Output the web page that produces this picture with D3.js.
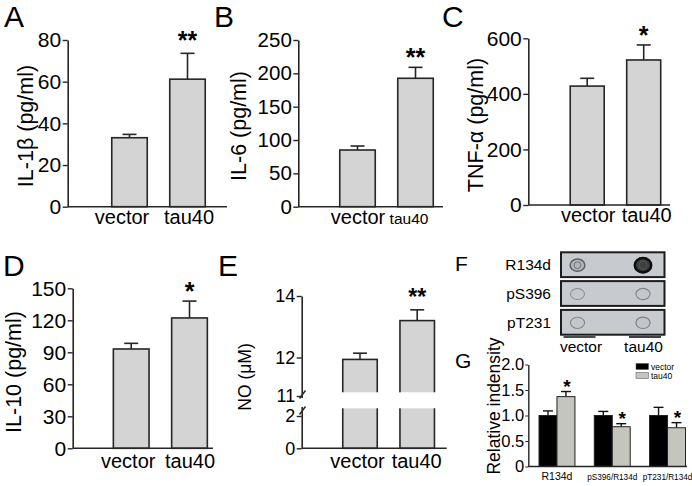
<!DOCTYPE html>
<html><head><meta charset="utf-8">
<script src="https://cdn.jsdelivr.net/npm/d3@7"></script>
<style>
html,body{margin:0;padding:0;background:#fff;}
svg{display:block;}
</style>
</head><body>
<svg id="fig" width="692" height="486"></svg>
<script>
// ---------- data ----------
const groups = ["vector", "tau40"];

const il1bMean = [33.1, 61.2];
const il1bErr  = [1.6, 12.4];
const il1bTicks = [0, 20, 40, 60, 80];
const il1bSig = ["", "**"];

const il6Mean = [85, 192.6];
const il6Err  = [6, 16.4];
const il6Ticks = [0, 50, 100, 150, 200, 250];
const il6Sig = ["", "**"];

const tnfMean = [428, 522];
const tnfErr  = [28, 54];
const tnfTicks = [0, 200, 400, 600];
const tnfSig = ["", "*"];

const il10Mean = [93.1, 122.2];
const il10Err  = [5.3, 15.8];
const il10Ticks = [0, 30, 60, 90, 120, 150];
const il10Sig = ["", "*"];

const noMean = [11.95, 13.2];
const noErr  = [0.19, 0.35];
const noTicks = [0, 2, 11, 12, 14];
const noSig = ["", "**"];

const blotRows = ["R134d", "pS396", "pT231"];
const blotLanes = ["vector", "tau40"];
const blotDensity = [[0.4, 0.95], [0.12, 0.16], [0.16, 0.2]];

const relCategories = ["R134d", "pS396/R134d", "pT231/R134d"];
const relVector = [1.0, 1.0, 1.0];
const relVectorErr = [0.09, 0.08, 0.16];
const relTau = [1.37, 0.78, 0.76];
const relTauErr = [0.10, 0.06, 0.10];
const relSig = ["*", "*", "*"];
const relTicks = [0, 0.5, 1.0, 1.5, 2.0];

// ---------- drawing ----------
const FONT = "'Liberation Sans', Arial, Helvetica, sans-serif";
const svg = d3.select("#fig").style("font-family", FONT);
const BAR_FILL = "#d4d4d4", INK = "#262626";

function letter(t, x, y, size) {
  svg.append("text").attr("x", x).attr("y", y).attr("font-size", size)
    .attr("fill", "#000").text(t);
}

function vTitle(t, cx, cy, size) {
  svg.append("text").attr("transform", `translate(${cx},${cy}) rotate(-90)`)
    .attr("text-anchor", "middle").attr("dominant-baseline", "central")
    .attr("font-size", size).attr("fill", "#000").text(t);
}

function barPanel(o) {
  const g = svg.append("g");
  const y = o.yScale || d3.scaleLinear().domain([0, o.max]).range([o.y0, o.yTop]);
  const x = d3.scalePoint().domain(groups).range(o.centers);
  const rows = groups.map((k, i) => ({k, v: o.values[i], e: o.errors[i], s: o.sig[i]}));

  const eb = g.selectAll(".eb").data(rows).join("g");
  eb.append("line").attr("x1", d => x(d.k)).attr("x2", d => x(d.k))
    .attr("y1", d => y(d.v)).attr("y2", d => y(d.v + d.e))
    .attr("stroke", INK).attr("stroke-width", 1.6);
  eb.append("line").attr("x1", d => x(d.k) - o.cap).attr("x2", d => x(d.k) + o.cap)
    .attr("y1", d => y(d.v + d.e)).attr("y2", d => y(d.v + d.e))
    .attr("stroke", INK).attr("stroke-width", 1.6);

  g.selectAll(".bar").data(rows).join("rect")
    .attr("x", d => x(d.k) - o.barW / 2).attr("width", o.barW)
    .attr("y", d => y(d.v)).attr("height", d => y(0) - y(d.v))
    .attr("fill", BAR_FILL).attr("stroke", INK).attr("stroke-width", 1.6);

  g.selectAll(".star").data(rows).join("text")
    .attr("x", d => x(d.k)).attr("y", d => y(d.v + d.e) - o.starGap)
    .attr("text-anchor", "middle").attr("font-weight", "bold")
    .attr("font-size", o.starSize).attr("fill", "#000").text(d => d.s);

  const ax = g.append("g").attr("transform", `translate(${o.axisX},0)`)
    .call(d3.axisLeft(y).tickValues(o.ticks).tickSize(5).tickSizeOuter(0).tickPadding(1.5)
      .tickFormat(o.fmt || d3.format("d")));
  ax.select(".domain").attr("stroke", INK).attr("stroke-width", 1.6);
  ax.selectAll(".tick line").attr("stroke", INK).attr("stroke-width", 1.4);
  ax.selectAll(".tick text").attr("font-size", o.tickSize).attr("fill", "#000")
    .attr("font-family", FONT);

  g.append("line").attr("x1", o.axisX).attr("x2", o.axisEnd)
    .attr("y1", y(0)).attr("y2", y(0)).attr("stroke", INK).attr("stroke-width", 1.6);

  g.selectAll(".xl").data(rows).join("text")
    .attr("x", (d, i) => x(d.k) + o.labelDx[i]).attr("y", o.labelY)
    .attr("text-anchor", "middle").attr("font-size", (d, i) => o.labelSizes[i])
    .attr("fill", "#000").text(d => d.k);

  vTitle(o.title, o.titleX, o.titleY, o.titleSize);
  return {g, y, x};
}

// A
letter("A", 4, 27, 30);
barPanel({values: il1bMean, errors: il1bErr, ticks: il1bTicks, sig: il1bSig, max: 80,
  y0: 206.7, yTop: 40, axisX: 67.7, axisEnd: 227, centers: [129.5, 187.5], barW: 35.5, cap: 7,
  starGap: 4, starSize: 25, tickSize: 21, labelDx: [-7.5, 1.5], labelY: 224, labelSizes: [20, 20],
  title: "IL-1β (pg/ml)", titleX: 26, titleY: 126, titleSize: 21.5});

// B
letter("B", 214, 27, 30);
barPanel({values: il6Mean, errors: il6Err, ticks: il6Ticks, sig: il6Sig, max: 250,
  y0: 206.7, yTop: 40, axisX: 298.3, axisEnd: 443, centers: [357.5, 415.5], barW: 35.5, cap: 7,
  starGap: 1, starSize: 25, tickSize: 20.5, labelDx: [0.5, -6.5], labelY: 224, labelSizes: [20, 15.5],
  title: "IL-6 (pg/ml)", titleX: 238.5, titleY: 126, titleSize: 21.5});

// C
letter("C", 442, 27, 30);
barPanel({values: tnfMean, errors: tnfErr, ticks: tnfTicks, sig: tnfSig, max: 600,
  y0: 205, yTop: 38.3, axisX: 528.3, axisEnd: 670, centers: [587.2, 643.7], barW: 34, cap: 7,
  starGap: 1, starSize: 25, tickSize: 21, labelDx: [1, 3], labelY: 222, labelSizes: [20, 20],
  title: "TNF-α (pg/ml)", titleX: 476, titleY: 125, titleSize: 21.5});

// D
letter("D", 3, 276, 30);
barPanel({values: il10Mean, errors: il10Err, ticks: il10Ticks, sig: il10Sig, max: 150,
  y0: 448.3, yTop: 288.3, axisX: 72.7, axisEnd: 213, centers: [131.2, 189.5], barW: 35.7, cap: 7,
  starGap: 1, starSize: 25, tickSize: 21, labelDx: [-3, 0.5], labelY: 468, labelSizes: [20, 20],
  title: "IL-10 (pg/ml)", titleX: 14, titleY: 372, titleSize: 21.5});

// E (broken axis)
letter("E", 218, 276, 30);
const noScale = d3.scaleLinear().domain([0, 2, 11, 12, 14]).range([448.3, 416, 396, 357.5, 296]);
const pe = barPanel({values: noMean, errors: noErr, ticks: noTicks, sig: noSig, yScale: noScale,
  axisX: 301.7, axisEnd: 446.7, centers: [360, 417.2], barW: 34.5, cap: 7,
  starGap: 5, starSize: 23, tickSize: 18, labelDx: [-2.5, -0.5], labelY: 468, labelSizes: [20, 20],
  title: "NO (μM)", titleX: 245, titleY: 377, titleSize: 17.5});
pe.g.append("rect").attr("x", 336).attr("width", 106).attr("y", 392.3).attr("height", 16)
  .attr("fill", "#fff");
pe.g.append("rect").attr("x", 299).attr("width", 6).attr("y", 398).attr("height", 9)
  .attr("fill", "#fff");
pe.g.append("line").attr("x1", 299.5).attr("y1", 398.5).attr("x2", 305.5).attr("y2", 390.5)
  .attr("stroke", INK).attr("stroke-width", 1.4);
pe.g.append("line").attr("x1", 299.5).attr("y1", 414.5).attr("x2", 305.5).attr("y2", 406.5)
  .attr("stroke", INK).attr("stroke-width", 1.4);

// F blot
letter("F", 455, 271, 21);
const BOX_FILL = "#c7cace";
const rowScale = d3.scaleBand().domain(blotRows).range([252.3, 334.7]).paddingInner(0.139);
const laneScale = d3.scalePoint().domain(blotLanes).range([577.5, 643]);
const fg = svg.append("g");
fg.selectAll(".box").data(blotRows).join("rect")
  .attr("x", 561).attr("width", 103.5).attr("y", d => rowScale(d)).attr("height", rowScale.bandwidth())
  .attr("fill", BOX_FILL).attr("stroke", "#1c1c1c").attr("stroke-width", 2);
fg.selectAll(".rl").data(blotRows).join("text")
  .attr("x", 551).attr("y", d => rowScale(d) + rowScale.bandwidth() / 2)
  .attr("dominant-baseline", "central").attr("text-anchor", "end").attr("font-size", 15.5)
  .attr("fill", "#000").text(d => d);
const dots = [];
blotRows.forEach((r, i) => blotLanes.forEach((l, j) => dots.push({r, l, d: blotDensity[i][j]})));
const dotFill = d3.interpolateRgb(BOX_FILL, "#111");
const dotStroke = d3.interpolateRgb(BOX_FILL, "#000");
const dcy = d => rowScale(d.r) + rowScale.bandwidth() / 2 + 0.5;
fg.selectAll(".dot").data(dots).join("ellipse")
  .attr("cx", d => laneScale(d.l)).attr("cy", dcy)
  .attr("rx", d => 6.8 + d.d * 1.5).attr("ry", d => 5.3 + d.d * 2)
  .attr("fill", d => dotFill(Math.pow(d.d, 2.2) * 0.85))
  .attr("stroke", d => dotStroke(0.22 + d.d * 0.75))
  .attr("stroke-width", d => 0.8 + d.d * 1.8);
fg.selectAll(".dotc").data(dots.filter(d => d.d > 0.3)).join("ellipse")
  .attr("cx", d => laneScale(d.l)).attr("cy", dcy)
  .attr("rx", d => 3 + d.d).attr("ry", d => 3 + d.d)
  .attr("fill", "none").attr("stroke", d => dotStroke(0.3 + d.d * 0.3)).attr("stroke-width", 1);
fg.selectAll(".ul").data(blotLanes).join("line")
  .attr("x1", d => laneScale(d) - 14).attr("x2", d => laneScale(d) + 18)
  .attr("y1", 337).attr("y2", 337).attr("stroke", "#111").attr("stroke-width", 1.6);
fg.selectAll(".ll").data(blotLanes).join("text")
  .attr("x", (d, i) => laneScale(d) + [3.5, 0.5][i]).attr("y", 351.5)
  .attr("text-anchor", "middle").attr("font-size", 15.5).attr("fill", "#000").text(d => d);

// G grouped bars
letter("G", 455, 368, 21);
const gg = svg.append("g");
const yG = d3.scaleLinear().domain([0, 2]).range([466.5, 364.5]);
const xG = d3.scaleBand().domain(relCategories).range([539, 685.5]).paddingInner(0.35);
const sub = d3.scaleBand().domain(["vector", "tau40"]).range([0, xG.bandwidth()]);
const TAU_G = "#c4c5bd";
const relData = relCategories.map((c, i) => [
  {c, k: "vector", v: relVector[i], e: relVectorErr[i], s: "", fill: "#000"},
  {c, k: "tau40", v: relTau[i], e: relTauErr[i], s: relSig[i], fill: TAU_G}
]).flat();
const bx = d => xG(d.c) + sub(d.k);
const bc = d => bx(d) + sub.bandwidth() / 2;
gg.selectAll(".e1").data(relData).join("line")
  .attr("x1", bc).attr("x2", bc).attr("y1", d => yG(d.v)).attr("y2", d => yG(d.v + d.e))
  .attr("stroke", "#111").attr("stroke-width", 1.4);
gg.selectAll(".e2").data(relData).join("line")
  .attr("x1", d => bc(d) - 5).attr("x2", d => bc(d) + 5)
  .attr("y1", d => yG(d.v + d.e)).attr("y2", d => yG(d.v + d.e))
  .attr("stroke", "#111").attr("stroke-width", 1.4);
gg.selectAll(".b").data(relData).join("rect")
  .attr("x", bx).attr("width", sub.bandwidth())
  .attr("y", d => yG(d.v)).attr("height", d => yG(0) - yG(d.v))
  .attr("fill", d => d.fill).attr("stroke", "#222").attr("stroke-width", 1);
gg.selectAll(".st").data(relData).join("text")
  .attr("x", d => bc(d) + 1).attr("y", d => yG(d.v + d.e) + 1)
  .attr("text-anchor", "middle").attr("font-weight", "bold").attr("font-size", 19)
  .attr("fill", "#000").text(d => d.s);
const axG = gg.append("g").attr("transform", "translate(528.3,0)")
  .call(d3.axisLeft(yG).tickValues(relTicks).tickSize(3).tickSizeOuter(0).tickPadding(1)
    .tickFormat(d => d === 0 ? "0" : d3.format(".1f")(d)));
axG.select(".domain").attr("stroke", INK).attr("stroke-width", 1.4);
axG.selectAll(".tick line").attr("stroke", INK);
axG.selectAll(".tick text").attr("font-size", 16.5).attr("fill", "#000").attr("font-family", FONT);
gg.append("line").attr("x1", 528.3).attr("x2", 687).attr("y1", yG(0)).attr("y2", yG(0))
  .attr("stroke", INK).attr("stroke-width", 1.4);
gg.selectAll(".xl").data(relCategories).join("text")
  .attr("x", d => xG(d) + xG.bandwidth() / 2).attr("y", 480)
  .attr("text-anchor", "middle").attr("font-size", (d, i) => i === 0 ? 10.5 : 8.2)
  .attr("fill", "#000").text(d => d);
vTitle("Relative indensity", 494, 406, 17.5);
const legKeys = [{k: "vector", fill: "#000"}, {k: "tau40", fill: TAU_G}];
const leg = gg.selectAll(".lg").data(legKeys).join("g")
  .attr("transform", (d, i) => `translate(636,${363.5 + i * 9})`);
leg.append("rect").attr("width", 12.5).attr("height", 6).attr("fill", d => d.fill)
  .attr("stroke", "#555").attr("stroke-width", 0.5);
leg.append("text").attr("x", 15).attr("y", 3).attr("dominant-baseline", "central")
  .attr("font-size", 8.5).attr("fill", "#000").text(d => d.k);
</script>
</body></html>
